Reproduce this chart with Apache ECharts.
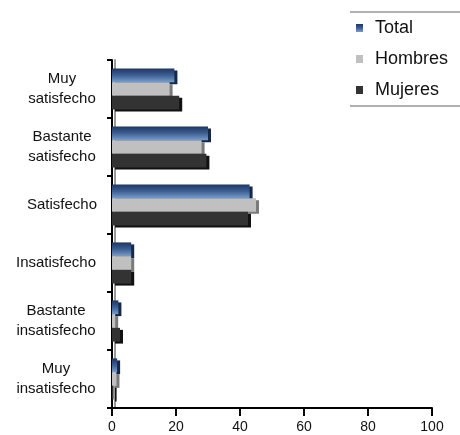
<!DOCTYPE html>
<html><head><meta charset="utf-8">
<script src="https://cdn.jsdelivr.net/npm/echarts@6/dist/echarts.min.js"></script>
<style>html,body{margin:0;padding:0;background:#fff}#c{width:460px;height:435px}</style>
</head><body><div id="c"></div>
<script>
var categories = ["Muy\nsatisfecho","Bastante\nsatisfecho","Satisfecho","Insatisfecho","Bastante\ninsatisfecho","Muy\ninsatisfecho"];
var total = [19.5, 30, 43, 6, 2, 1.6];
var hombres = [18, 28, 45, 6, 1, 1.4];
var mujeres = [21, 29.5, 42.5, 6, 2.5, 0.5];
var xTicks = [0, 20, 40, 60, 80, 100];

var chart = echarts.init(document.getElementById('c'));
var font = 'Liberation Sans, Arial, sans-serif';
function bar(name, data, color, shadow) {
  return {
    name: name, type: 'bar', data: data, barGap: '0%', barCategoryGap: '29%',
    itemStyle: { color: color, shadowColor: shadow, shadowBlur: 0, shadowOffsetX: 3, shadowOffsetY: 2 }
  };
}
var blue = new echarts.graphic.LinearGradient(0, 0, 0, 1, [
  {offset: 0, color: '#1c3664'}, {offset: 0.5, color: '#3d5f93'}, {offset: 1, color: '#7a9cc6'}]);
var catData = categories.map(function (c) {
  var wide = /nsatisfecho/.test(c);
  return { value: c, textStyle: { align: 'center', fontSize: 15, lineHeight: 20, color: '#111',
    padding: wide ? [0, 12, 0, 0] : [0, 0, 0, 0] } };
});
chart.setOption({
  animation: false,
  textStyle: { fontFamily: font },
  grid: { left: 112, right: 28, top: 60, bottom: 27, containLabel: false, outerBoundsMode: 'none' },
  legend: {
    orient: 'vertical', left: 351, top: 14, itemWidth: 7, itemHeight: 8, itemGap: 13,
    icon: 'rect',
    textStyle: { fontSize: 18, color: '#111', fontFamily: font, padding: [0, 0, 0, 7] },
    data: ['Total', 'Hombres', 'Mujeres']
  },
  graphic: [
    { type: 'line', shape: { x1: 350, y1: 12, x2: 460, y2: 12 }, style: { stroke: '#b0b0b0', lineWidth: 2 } },
    { type: 'line', shape: { x1: 350, y1: 106, x2: 460, y2: 106 }, style: { stroke: '#b0b0b0', lineWidth: 2 } }
  ],
  xAxis: {
    type: 'value', min: xTicks[0], max: xTicks[xTicks.length - 1], interval: 20,
    splitLine: { show: false },
    axisLine: { show: true, lineStyle: { color: '#000', width: 2 } },
    axisTick: { show: true, length: 8, lineStyle: { color: '#000', width: 2 } },
    axisLabel: { fontSize: 14, color: '#111', margin: 12 }
  },
  yAxis: {
    type: 'category', data: catData, inverse: true,
    axisLine: { show: true, lineStyle: { color: '#000', width: 2, shadowColor: '#9a9a9a', shadowBlur: 0, shadowOffsetX: 3 } },
    axisTick: { show: true, length: 5, lineStyle: { color: '#000', width: 2 } },
    axisLabel: { fontSize: 15, color: '#111', align: 'center', margin: 50, lineHeight: 20 }
  },
  series: [
    bar('Total', total, blue, '#14284a'),
    bar('Hombres', hombres, '#c0c0c0', '#7a7a7a'),
    bar('Mujeres', mujeres, '#333333', '#111111')
  ]
});
</script></body></html>
